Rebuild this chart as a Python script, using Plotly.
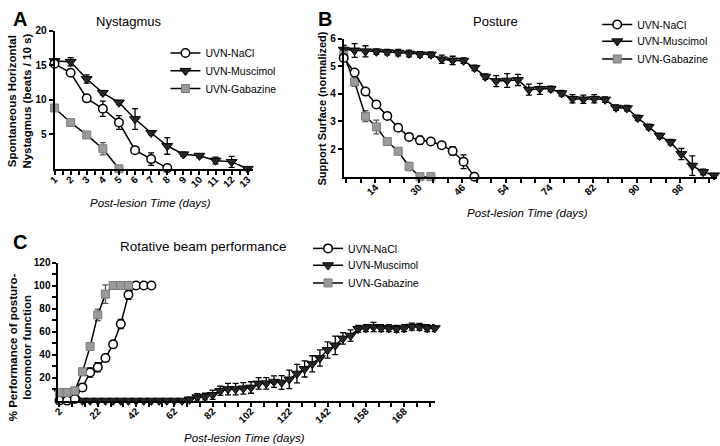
import plotly.graph_objects as go

W, H = 720, 446
FONT = "Liberation Sans, Arial, Helvetica, sans-serif"

# ---------------- Panel A: Nystagmus ----------------
days_A = [1, 2, 3, 4, 5, 6, 7, 8, 9, 10, 11, 12, 13]
tick_labels_A = ["1", "2", "3", "4", "5", "6", "7", "8", "9", "10", "11", "12", "13"]
nys_nacl = [15.2, 13.9, 10.2, 8.7, 6.7, 2.7, 1.4, 0.1]
nys_nacl_err = [0.4, 0.4, 0.3, 1.1, 1.0, 0.3, 0.9, 0.1]
nys_musc = [15.6, 15.5, 13.0, 11.0, 9.6, 7.2, 5.2, 3.3, 2.1, 1.9, 1.2, 1.0, 0.0]
nys_musc_err = [0.3, 0.6, 0.6, 0.3, 0.3, 1.5, 0.3, 1.2, 0.3, 0.3, 0.5, 0.8, 0.1]
nys_gaba = [8.8, 6.7, 4.9, 2.9, 0.0]
nys_gaba_err = [0.5, 0.3, 0.3, 0.9, 0.1]
yticks_A = [5, 10, 15, 20]

# ---------------- Panel B: Posture ----------------
tick_labels_B = ["14", "30", "46", "54", "74", "82", "90", "98"]
post_nacl = [5.3, 4.77, 4.08, 3.61, 3.2, 2.77, 2.44, 2.32, 2.27, 2.14, 1.93, 1.54, 1.0]
post_nacl_err = [0.1, 0.1, 0.1, 0.1, 0.1, 0.1, 0.1, 0.15, 0.1, 0.1, 0.15, 0.25, 0.0]
post_musc = [5.6, 5.57, 5.54, 5.53, 5.51, 5.49, 5.46, 5.43, 5.42, 5.25, 5.21, 5.2,
             4.94, 4.62, 4.46, 4.48, 4.5, 4.15, 4.18, 4.18, 4.02, 3.82, 3.8, 3.82,
             3.79, 3.5, 3.48, 3.13, 2.8, 2.48, 2.25, 1.82, 1.4, 1.17, 1.05]
post_musc_err = [0.15, 0.25, 0.2, 0.1, 0.1, 0.12, 0.12, 0.1, 0.1, 0.15, 0.15, 0.1,
                 0.1, 0.1, 0.2, 0.25, 0.2, 0.2, 0.2, 0.1, 0.1, 0.15, 0.15, 0.15,
                 0.1, 0.1, 0.1, 0.1, 0.1, 0.1, 0.1, 0.2, 0.35, 0.1, 0.05]
post_gaba = [5.4, 4.43, 3.19, 2.8, 2.27, 1.92, 1.37, 1.0, 1.0]
post_gaba_err = [0.1, 0.15, 0.2, 0.25, 0.1, 0.1, 0.15, 0.0, 0.0]
yticks_B = [2, 3, 4, 5, 6]

# ---------------- Panel C: Rotative beam ----------------
tick_labels_C = ["2", "22", "42", "62", "82", "102", "122", "142", "158", "168"]
beam_nacl = [0, 0, 1.5, 11.5, 24.5, 29, 37, 49, 66.5, 92, 100, 100, 100]
beam_nacl_err = [1, 1, 2, 3, 4, 4, 3, 3, 4, 4, 0, 0, 0]
beam_gaba = [7, 7, 8.5, 25, 47, 74.5, 92.5, 100, 100, 100]
beam_gaba_err = [2, 2, 2, 3, 3, 5, 8, 0, 0, 0]
beam_musc = [7, 7, 7, 0, 0, 0, 0, 0, 0, 0, 0, 0, 0, 0, 0, 0, 0, 1, 3, 3.4,
             5, 8.5, 10, 10, 10.7, 11.4, 14.9, 15, 16.5, 15.7, 18.5, 23.5, 27.5, 32, 37,
             44, 48, 54, 56.5, 62.3, 63, 64, 63, 62.9, 62.3, 63, 64.3, 64, 63, 63]
beam_musc_err = [2, 2, 2, 0, 0, 0, 0, 0, 0, 0, 0, 0, 0, 0, 0, 0, 0, 2, 3, 3,
                 4, 4, 5, 5, 5, 5, 5, 5, 5, 6, 8, 8, 7, 7, 7,
                 7, 8, 5, 5, 3, 3, 4, 3, 3, 3, 3, 3, 3, 3, 3]
yticks_C = [10, 20, 30, 40, 50, 60, 70, 80, 90, 100, 110, 120]
ylabels_C = ["", "20", "", "40", "", "60", "", "80", "", "100", "", "120"]


def fx(p):
    return p / W


def fy(p):
    return 1 - p / H


styles = {
    "UVN-NaCl": dict(symbol="circle", size=8.5, color="white", line=dict(color="black", width=1.5)),
    "UVN-Muscimol": dict(symbol="triangle-down", size=9.5, color="#262626", line=dict(color="black", width=1)),
    "UVN-Gabazine": dict(symbol="square", size=8, color="#9a9a9a", line=dict(color="#7a7a7a", width=1)),
}
errcol = {"UVN-NaCl": "black", "UVN-Muscimol": "black", "UVN-Gabazine": "#555555"}

fig = go.Figure()


def add(x, y, err, name, xa, ya, legend):
    fig.add_trace(go.Scatter(
        x=x, y=y, mode="lines+markers", name=name,
        xaxis=xa, yaxis=ya, legend=legend,
        line=dict(color="black", width=1.5),
        marker=styles[name],
        error_y=dict(type="data", array=err, color=errcol[name], thickness=1.3, width=3),
        cliponaxis=False,
    ))


# Panel A  (one legend per entry so the entries can be placed like the original)
add(days_A[:len(nys_musc)], nys_musc, nys_musc_err, "UVN-Muscimol", "x", "y", "legend2")
add(days_A[:len(nys_gaba)], nys_gaba, nys_gaba_err, "UVN-Gabazine", "x", "y", "legend3")
add(days_A[:len(nys_nacl)], nys_nacl, nys_nacl_err, "UVN-NaCl", "x", "y", "legend")

# Panel B (x = measurement index)
add(list(range(len(post_musc))), post_musc, post_musc_err, "UVN-Muscimol", "x2", "y2", "legend5")
add(list(range(len(post_gaba))), post_gaba, post_gaba_err, "UVN-Gabazine", "x2", "y2", "legend6")
add(list(range(len(post_nacl))), post_nacl, post_nacl_err, "UVN-NaCl", "x2", "y2", "legend4")

# Panel C (x = measurement index)
add(list(range(len(beam_musc))), beam_musc, beam_musc_err, "UVN-Muscimol", "x3", "y3", "legend8")
add(list(range(len(beam_nacl))), beam_nacl, beam_nacl_err, "UVN-NaCl", "x3", "y3", "legend7")
add(list(range(len(beam_gaba))), beam_gaba, beam_gaba_err, "UVN-Gabazine", "x3", "y3", "legend9")

tickfont = dict(family=FONT, size=10, color="black", weight="bold")
axis_common = dict(showline=True, linewidth=2, linecolor="black", ticks="outside",
                   ticklen=4, tickwidth=1.5, tickcolor="black", showgrid=False,
                   zeroline=False, tickfont=tickfont, fixedrange=True)

# A axes
a_vals = []
a_text = []
for i, d in enumerate(days_A):
    a_vals.append(d)
    a_text.append(tick_labels_A[i])
    if i < len(days_A) - 1:
        a_vals.append(d + 0.5)
        a_text.append("")
fig.update_layout(
    xaxis=dict(domain=[fx(48), fx(248)], range=[1, 13.3], anchor="y",
               tickmode="array", tickvals=a_vals, ticktext=a_text, tickangle=-45,
               ticklabelstandoff=-5, **axis_common),
    yaxis=dict(domain=[fy(165), fy(25)], range=[0, 20], anchor="x",
               tickmode="array", tickvals=yticks_A, **axis_common),
)

# B axes: labelled tick every 4 measurements, minor tick every 4/3
b_vals, b_text = [], []
step_b = 4 / 3
for k in range(26):
    b_vals.append(0.233 + step_b * k)
    b_text.append(tick_labels_B[(k - 2) // 3] if (k - 2) % 3 == 0 and k >= 2 else "")
fig.update_layout(
    xaxis2=dict(domain=[fx(340), fx(717)], range=[0, 34.27], anchor="y2",
                tickmode="array", tickvals=b_vals, ticktext=b_text, tickangle=-45,
                ticklabelstandoff=-5, **axis_common),
    yaxis2=dict(domain=[fy(173), fy(33)], range=[1, 6], anchor="x2",
                tickmode="array", tickvals=yticks_B, **axis_common),
)

# C axes: labelled tick every 5 measurements, minor every 5/3
c_vals, c_text = [], []
for k in range(30):
    c_vals.append(5 / 3 * k)
    c_text.append(tick_labels_C[k // 3] if k % 3 == 0 else "")
fig.update_layout(
    xaxis3=dict(domain=[fx(52), fx(432)], range=[-0.13, 49.0], anchor="y3",
                tickmode="array", tickvals=c_vals, ticktext=c_text, tickangle=-45,
                ticklabelstandoff=-5, **axis_common),
    yaxis3=dict(domain=[fy(400), fy(260)], range=[0, 120], anchor="x3",
                tickmode="array", tickvals=yticks_C, ticktext=ylabels_C, **axis_common),
)

legend_common = dict(xanchor="left", yanchor="top", bgcolor="rgba(0,0,0,0)",
                     font=dict(family=FONT, size=10.5, color="black"),
                     itemwidth=30, tracegroupgap=0, borderwidth=0)
# (left x of legend, top y of legend) in pixels for each entry
legend_pos = {
    "legend": (160, 33), "legend2": (160, 51), "legend3": (160, 69),
    "legend4": (596, 4), "legend5": (596, 21), "legend6": (596, 39),
    "legend7": (304, 231), "legend8": (304, 248), "legend9": (304, 266),
}
fig.update_layout(**{k: dict(x=fx(v[0]), y=fy(v[1]), **legend_common) for k, v in legend_pos.items()})

ann = []


def text(x, y, t, size, bold=False, italic=False, angle=0, xanchor="center"):
    s = t
    if italic:
        s = "<i>" + s + "</i>"
    ann.append(dict(x=fx(x), y=fy(y), xref="paper", yref="paper", text=s, showarrow=False,
                    xanchor=xanchor, yanchor="middle", textangle=angle,
                    font=dict(family=FONT, size=size, color="black", weight="bold" if bold else "normal")))


text(4, 13, "A", 20, bold=True, xanchor="left")
text(312, 13, "B", 20, bold=True, xanchor="left")
text(4, 239, "C", 20, bold=True, xanchor="left")
text(123, 16, "Nystagmus", 13)
text(493, 16, "Posture", 13)
text(198, 244, "Rotative beam performance", 13.5)
text(145, 200, "Post-lesion Time (days)", 11.5, italic=True)
text(526, 210, "Post-lesion Time (days)", 11.5, italic=True)
text(240, 438, "Post-lesion Time (days)", 11.5, italic=True)
text(13, 96, "Spontaneous Horizontal<br>Nystagmus (beats / 10 s)", 11.5, bold=True, angle=-90)
text(318, 104, "Support Surface (normalized)", 11, bold=True, angle=-90)
text(13, 346, "% Performance of posturo-<br>locomotor function", 11.5, bold=True, angle=-90)

fig.update_layout(
    width=W, height=H, margin=dict(l=0, r=0, t=0, b=0),
    paper_bgcolor="white", plot_bgcolor="white",
    annotations=ann, showlegend=True,
    font=dict(family=FONT, color="black"),
)

fig.write_html("out.html", config={"displayModeBar": False},
               post_script="document.body.style.margin='0';document.body.style.overflow='hidden';")
